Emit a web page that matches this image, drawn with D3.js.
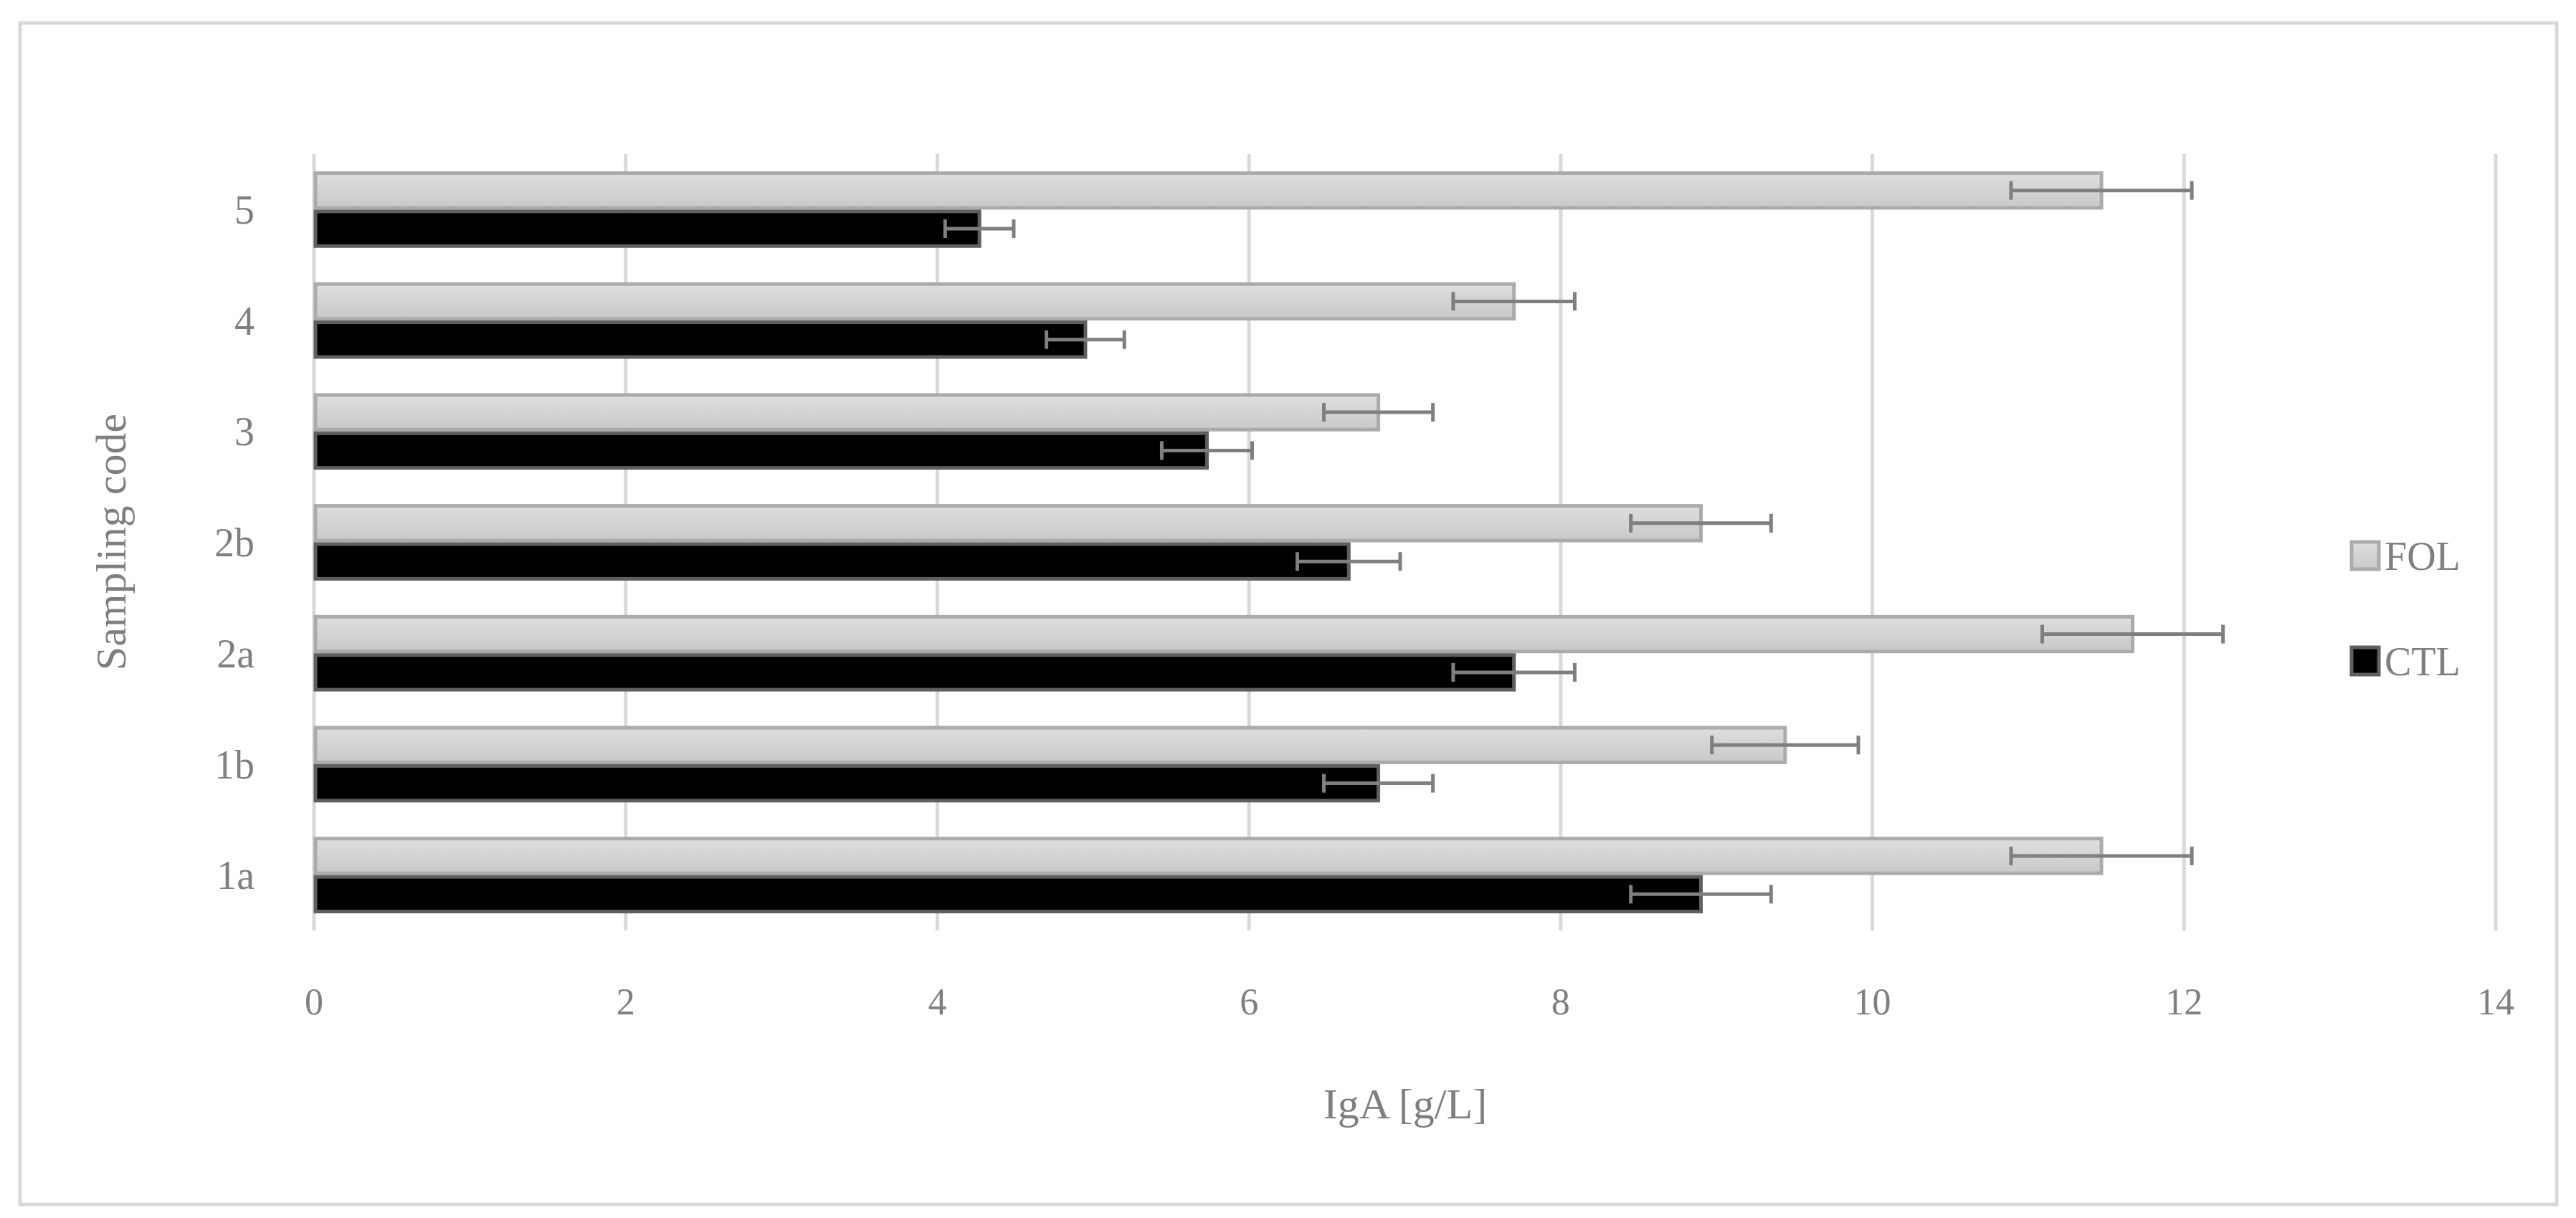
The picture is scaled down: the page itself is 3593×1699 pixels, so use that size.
<!DOCTYPE html>
<html><head><meta charset="utf-8">
<script src="https://cdn.jsdelivr.net/npm/d3@7"></script>
<style>body{margin:0;background:#fff}</style></head>
<body><svg id="c" width="3593" height="1699"></svg>
<script>
const categories = ["1a","1b","2a","2b","3","4","5"];
const folValues = [11.47, 9.44, 11.67, 8.90, 6.83, 7.70, 11.47];
const folErrors = [0.58, 0.47, 0.58, 0.45, 0.35, 0.39, 0.58];
const ctlValues = [8.90, 6.83, 7.70, 6.64, 5.73, 4.95, 4.27];
const ctlErrors = [0.45, 0.35, 0.39, 0.33, 0.29, 0.25, 0.22];
const xTicks = [0,2,4,6,8,10,12,14];

const svg = d3.select("#c");
const font = "'Liberation Serif', 'DejaVu Serif', serif";
const grey = "#7f7f7f";
svg.append("rect").attr("x",28).attr("y",32).attr("width",3538).attr("height",1648)
  .attr("fill","#fff").attr("stroke","#d9d9d9").attr("stroke-width",5);

const defs = svg.append("defs");
const g1 = defs.append("linearGradient").attr("id","gf").attr("x1",0).attr("y1",0).attr("x2",0).attr("y2",1);
g1.append("stop").attr("offset","0").attr("stop-color","#dedede");
g1.append("stop").attr("offset","1").attr("stop-color","#c9c9c9");

const x = d3.scaleLinear().domain([0,14]).range([438,3481]);
const y = d3.scaleBand().domain(categories.slice().reverse()).range([215,1298]).paddingInner(0.31).paddingOuter(0.155);
const sub = d3.scaleBand().domain(["FOL","CTL"]).range([0,y.bandwidth()]);

svg.append("g").selectAll("line").data(xTicks).join("line")
  .attr("x1",d=>x(d)).attr("x2",d=>x(d)).attr("y1",215).attr("y2",1298)
  .attr("stroke","#d9d9d9").attr("stroke-width",5);

const series = [
  {k:"FOL", v:folValues, e:folErrors, fill:"url(#gf)", stroke:"#ababab"},
  {k:"CTL", v:ctlValues, e:ctlErrors, fill:"#000", stroke:"#5f5f5f"}
];
series.forEach(s=>{
  const g = svg.append("g");
  const data = categories.map((c,i)=>({c, v:s.v[i], e:s.e[i]}));
  g.selectAll("rect").data(data).join("rect")
    .attr("x",x(0)+2).attr("y",d=>y(d.c)+sub(s.k)+2.5)
    .attr("width",d=>x(d.v)-x(0)-2).attr("height",sub.bandwidth()-5)
    .attr("fill",s.fill).attr("stroke",s.stroke).attr("stroke-width",5);
  const eg = g.selectAll("g.e").data(data).join("g");
  const cy = d=>y(d.c)+sub(s.k)+sub.bandwidth()/2;
  eg.append("line").attr("x1",d=>x(d.v-d.e)).attr("x2",d=>x(d.v+d.e)).attr("y1",cy).attr("y2",cy);
  eg.append("line").attr("x1",d=>x(d.v-d.e)).attr("x2",d=>x(d.v-d.e)).attr("y1",d=>cy(d)-13).attr("y2",d=>cy(d)+13);
  eg.append("line").attr("x1",d=>x(d.v+d.e)).attr("x2",d=>x(d.v+d.e)).attr("y1",d=>cy(d)-13).attr("y2",d=>cy(d)+13);
  eg.selectAll("line").attr("stroke",grey).attr("stroke-width",5);
});

svg.append("g").selectAll("text").data(xTicks).join("text")
  .attr("x",d=>x(d)).attr("y",1415).attr("text-anchor","middle")
  .attr("font-family",font).attr("font-size",52).attr("fill",grey).text(d=>d);
svg.append("g").selectAll("text").data(categories).join("text")
  .attr("x",355).attr("y",d=>y(d)+y.bandwidth()/2).attr("dy","0.35em").attr("text-anchor","end")
  .attr("font-family",font).attr("font-size",56).attr("fill",grey).text(d=>d);

svg.append("text").attr("x",1960).attr("y",1560).attr("text-anchor","middle")
  .attr("font-family",font).attr("font-size",60).attr("fill",grey).text("IgA [g/L]");
svg.append("text").attr("transform","translate(175,756) rotate(-90)").attr("text-anchor","middle")
  .attr("font-family",font).attr("font-size",60).attr("fill",grey).text("Sampling code");

const legend = [{k:"FOL",fill:"url(#gf)",stroke:"#ababab",y:775},{k:"CTL",fill:"#000",stroke:"#5f5f5f",y:922}];
const lg = svg.append("g").selectAll("g").data(legend).join("g");
lg.append("rect").attr("x",3280).attr("y",d=>d.y-19).attr("width",38).attr("height",38)
  .attr("fill",d=>d.fill).attr("stroke",d=>d.stroke).attr("stroke-width",5);
lg.append("text").attr("x",3326).attr("y",d=>d.y).attr("dy","0.35em")
  .attr("font-family",font).attr("font-size",56).attr("fill",grey).text(d=>d.k);
</script></body></html>
